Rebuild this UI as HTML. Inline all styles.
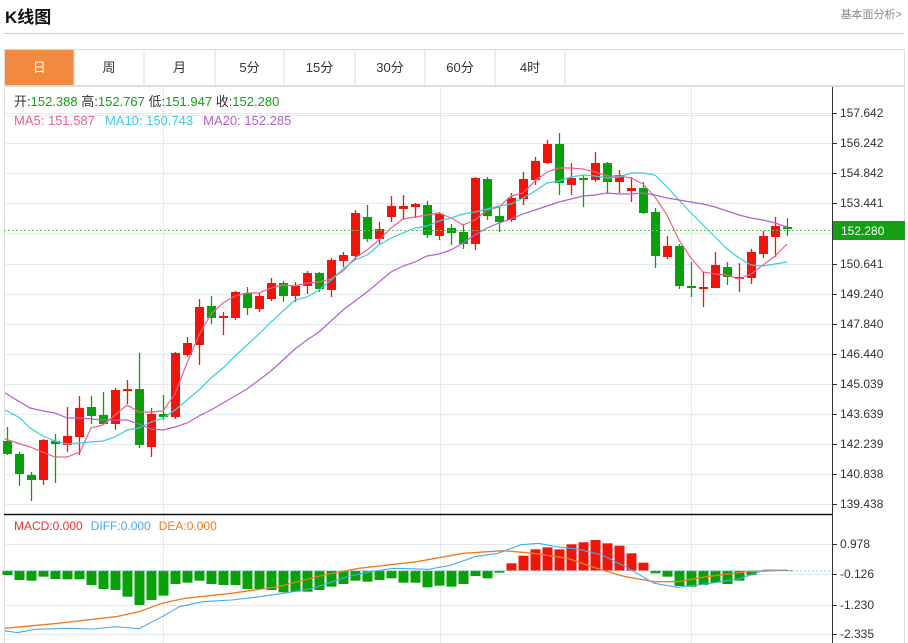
<!DOCTYPE html>
<html><head><meta charset="utf-8"><style>
body{margin:0;background:#fff;font-family:"Liberation Sans","Noto Sans CJK SC",sans-serif;}
#w{position:relative;width:908px;height:643px;overflow:hidden}
.t{position:absolute;white-space:nowrap}
</style></head><body><div id="w">
<div class="t" style="left:5px;top:3px;font-size:17px;font-weight:bold;color:#111">K线图</div>
<div class="t" style="right:6px;top:6px;font-size:11px;color:#888">基本面分析&gt;</div>
<div style="position:absolute;left:4px;top:33px;width:900px;height:1px;background:#ccc"></div>
<svg id="s" width="908" height="643" style="position:absolute;left:0;top:0" font-family="Liberation Sans, Noto Sans CJK SC, sans-serif"></svg>
</div>
<script>
var S='';
function L(x1,y1,x2,y2,c,w,d){S+='<line x1="'+x1+'" y1="'+y1+'" x2="'+x2+'" y2="'+y2+'" stroke="'+c+'" stroke-width="'+(w||1)+'"'+(d?' stroke-dasharray="'+d+'"':'')+'/>';}
function R(x,y,w,h,f,s){S+='<rect x="'+x+'" y="'+y+'" width="'+w+'" height="'+h+'" fill="'+f+'"'+(s?' stroke="'+s+'"':'')+'/>';}
function T(x,y,t,c,sz,a){S+='<text x="'+x+'" y="'+y+'" fill="'+c+'" font-size="'+(sz||12)+'"'+(a?' text-anchor="'+a+'"':'')+'>'+t+'</text>';}
function P(pts,c,w){S+='<polyline fill="none" stroke="'+c+'" stroke-width="'+(w||1.2)+'" points="'+pts.map(function(p){return p.join(',')}).join(' ')+'"/>';}
// tabs
R(4.5,49.5,900,36,'#fff','#ddd');
var tabs=['日','周','月','5分','15分','30分','60分','4时'];
var bx=[4.6,74,144,215,284,355,425,495,565];
for(var i=0;i<8;i++){ if(i==0)R(5,50,69,35,'#f08a3e'); L(bx[i+1],50,bx[i+1],85,'#ddd');
 T((bx[i]+bx[i+1])/2,72,tabs[i],i==0?'#fff':'#333',13,'middle');}
// chart frame
L(4.5,86,4.5,643,'#ddd');L(832.5,86,832.5,643,'#333');L(904.5,86,904.5,643,'#ddd');
L(4,86.5,905,86.5,'#ddd');L(4,115.5,832,115.5,'#e3eaf0');
[163.5,440.5,691.5].forEach(function(x){L(x,86,x,643,'#e3eaf0');});
var ticks=[[113,'157.642'],[143,'156.242'],[173,'154.842'],[203,'153.441'],[264,'150.641'],[294,'149.240'],[324,'147.840'],[354,'146.440'],[384,'145.039'],[414,'143.639'],[444,'142.239'],[474,'140.838'],[504,'139.438']];
ticks.forEach(function(t){L(4,t[0]+.5,832,t[0]+.5,'#e3eaf0');L(832,t[0]+.5,837,t[0]+.5,'#333');T(840,t[0]+4,t[1],'#333',12);});
L(4,233.5,832,233.5,'#e3eaf0');
L(4,514.5,832,514.5,'#111',1.5);
// candles: [open,close,high,low] in y, color
var C=[[441,454,427,455,'g'],[454,474,452,486,'g'],[475,480,472,501,'g'],[480,440,439,485,'r'],[441,444,434,483,'g'],[445,436,407,452,'r'],[437,408,396,455,'r'],[407,416,396,424,'g'],[415,424,392,424,'g'],[424,390,388,430,'r'],[391,389,380,404,'r'],[389,445,353,448,'g'],[447,414,408,457,'r'],[414,417,395,420,'g'],[417,353,352,419,'r'],[355,343,337,357,'r'],[345,307,299,365,'r'],[306,318,296,324,'g'],[318,316,312,335,'r'],[318,292,291,320,'r'],[293,308,287,315,'g'],[309,296,293,312,'r'],[299,283,278,301,'r'],[283,296,281,302,'g'],[296,286,282,302,'r'],[286,273,271,294,'r'],[273,289,272,292,'g'],[290,260,258,297,'r'],[261,255,252,267,'r'],[256,213,210,260,'r'],[217,239,205,242,'g'],[239,229,222,244,'r'],[217,206,196,222,'r'],[209,206,195,220,'r'],[207,204,203,218,'r'],[205,235,201,238,'g'],[236,214,212,240,'r'],[228,233,224,245,'g'],[232,244,224,249,'g'],[244,178,177,250,'r'],[179,216,177,220,'g'],[216,222,206,232,'g'],[220,198,193,222,'r'],[199,179,172,205,'r'],[180,161,157,185,'r'],[163,144,140,164,'r'],[144,183,133,195,'g'],[185,178,163,195,'r'],[178,179,175,207,'g'],[180,163,152,182,'r'],[163,182,162,194,'g'],[182,175,170,193,'r'],[191,188,177,202,'r'],[188,213,182,214,'g'],[212,256,208,268,'g'],[257,246,236,259,'r'],[246,286,244,289,'g'],[286,287,262,297,'g'],[288,287,272,307,'r'],[288,265,252,288,'r'],[267,277,262,285,'g'],[278,277,263,292,'r'],[278,252,249,284,'r'],[254,236,231,258,'r'],[237,226,217,257,'r'],[227,229,218,236,'g']];
C.forEach(function(c,i){var x=7.5+12*i,col=c[4]=='r'?'#f0150a':'#08a10a';
 L(x,c[2],x,c[3],col,1.3);var t=Math.min(c[0],c[1]),h=Math.max(Math.abs(c[0]-c[1]),2);R(x-4.5,t,9,h,col);});
P([[5,439],[30,447],[55,457],[67,457],[80,452],[91,428],[103,425],[115,415],[127,405],[139,412],[151,412],[163,411],[175,394],[187,363],[199,335],[211,314],[223,303],[235,296],[247,293],[259,293],[271,288],[283,285],[295,286],[307,283],[319,282],[331,279],[343,271],[355,258],[367,250],[379,240],[391,228],[403,219],[415,217],[427,215],[439,213],[451,218],[463,225],[475,220],[487,210],[499,207],[511,196],[523,193],[535,181],[547,172],[559,168],[571,168],[583,169],[595,172],[607,176],[619,176],[631,178],[643,184],[655,197],[667,215],[679,240],[691,258],[703,272],[715,274],[727,275],[739,279],[751,274],[763,265],[775,256],[787,244]],'#f0608a');
P([[5,410],[20,418],[30,428],[43,436],[55,441],[67,444],[80,443],[91,442],[103,441],[115,437],[127,430],[139,428],[151,422],[163,418],[175,410],[187,400],[199,390],[211,378],[223,368],[235,356],[247,345],[259,334],[271,322],[283,311],[295,300],[307,297],[319,290],[331,280],[343,269],[355,260],[367,255],[379,245],[391,238],[403,233],[415,228],[427,226],[439,221],[451,218],[463,214],[475,212],[487,209],[499,206],[511,204],[523,198],[535,191],[547,183],[559,181],[571,177],[583,175],[595,176],[607,178],[619,177],[631,173],[643,173],[655,175],[667,187],[679,200],[691,213],[703,225],[715,237],[727,249],[739,258],[751,265],[763,266],[775,264],[787,262]],'#3ccbe0');
P([[5,393],[20,402],[30,408],[43,411],[55,413],[67,418],[80,418],[91,419],[103,420],[115,420],[127,420],[139,424],[151,429],[163,430],[175,427],[187,423],[199,416],[211,410],[223,403],[235,396],[247,389],[259,380],[271,371],[283,360],[295,349],[307,340],[319,332],[331,321],[343,310],[355,301],[367,292],[379,282],[391,272],[403,266],[415,262],[427,256],[439,254],[451,250],[463,243],[475,235],[487,228],[499,223],[511,219],[523,214],[535,210],[547,206],[559,202],[571,199],[583,196],[595,195],[607,193],[619,194],[631,194],[643,193],[655,195],[667,198],[679,200],[691,202],[703,204],[715,207],[727,211],[739,215],[751,218],[763,220],[775,223],[787,227]],'#b45fcf');
L(4,230.5,832,230.5,'#5cc45c',1,'2,2');
R(833,221,72,19,'#14a014');T(841,235,'152.280','#fff',12);
// info text
S+='<text x="14" y="106" font-size="13"><tspan fill="#333">开:</tspan><tspan fill="#14a014">152.388 </tspan><tspan fill="#333"> 高:</tspan><tspan fill="#14a014">152.767 </tspan><tspan fill="#333"> 低:</tspan><tspan fill="#14a014">151.947 </tspan><tspan fill="#333"> 收:</tspan><tspan fill="#14a014">152.280</tspan></text>';
S+='<text x="14" y="125" font-size="13"><tspan fill="#f0608a">MA5: 151.587</tspan><tspan fill="#3ccbe0" dx="10">MA10: 150.743</tspan><tspan fill="#b45fcf" dx="10">MA20: 152.285</tspan></text>';
// MACD
[[544,'0.978'],[574,'-0.126'],[605,'-1.230'],[634,'-2.335']].forEach(function(t){L(4,t[0]+.5,832,t[0]+.5,'#e3eaf0');L(832,t[0]+.5,837,t[0]+.5,'#333');T(840,t[0]+4,t[1],'#333',12);});
S+='<text x="14" y="530" font-size="12"><tspan fill="#f03030">MACD:0.000</tspan><tspan fill="#4aa8f0" dx="8">DIFF:0.000</tspan><tspan fill="#f07a20" dx="8">DEA:0.000</tspan></text>';
var z=570.7;
var mb=[195,210,212,200,207,208,208,225,237,240,260,285,270,257,222,218,212,222,225,225,237,237,240,247,245,245,240,230,222,212,215,210,205,218,218,232,227,230,222,198,205,188,160,137,118,112,118,103,97,90,100,107,130,158,190,200,228,230,225,218,222,212,195,185,181,181];
mb.forEach(function(v,i){var y=510+v/3,x=7.5+12*i;var col=i>=42&&i<=53?'#f0150a':'#08a10a';R(x-5,Math.min(y,z),10,Math.max(Math.abs(y-z),0.8),col);});
L(4,z,832,z,'#9cd8f0',1,'2,2');
function cv(a){return a.map(function(p){return [(p[0]/1.727).toFixed(1),(510+p[1]/3).toFixed(1)];});}
P(cv([[8,355],[100,340],[200,320],[240,305],[280,280],[320,265],[400,250],[480,230],[560,195],[620,175],[720,155],[800,130],[870,122],[920,130],[980,145],[1030,175],[1080,200],[1130,215],[1170,215],[1220,200],[1290,185],[1360,180]]),'#f07a20',1.3);
P(cv([[8,362],[30,368],[60,358],[120,355],[160,357],[200,350],[240,356],[280,320],[310,290],[350,275],[400,270],[440,262],[490,250],[540,235],[600,200],[640,185],[680,175],[740,178],[780,165],[820,140],[860,130],[900,104],[930,100],[960,110],[1000,118],[1040,135],[1080,170],[1130,220],[1170,232],[1220,222],[1280,205],[1320,180],[1360,180]]),'#4aa8f0',1.1);
document.getElementById('s').innerHTML=S;
</script></body></html>
